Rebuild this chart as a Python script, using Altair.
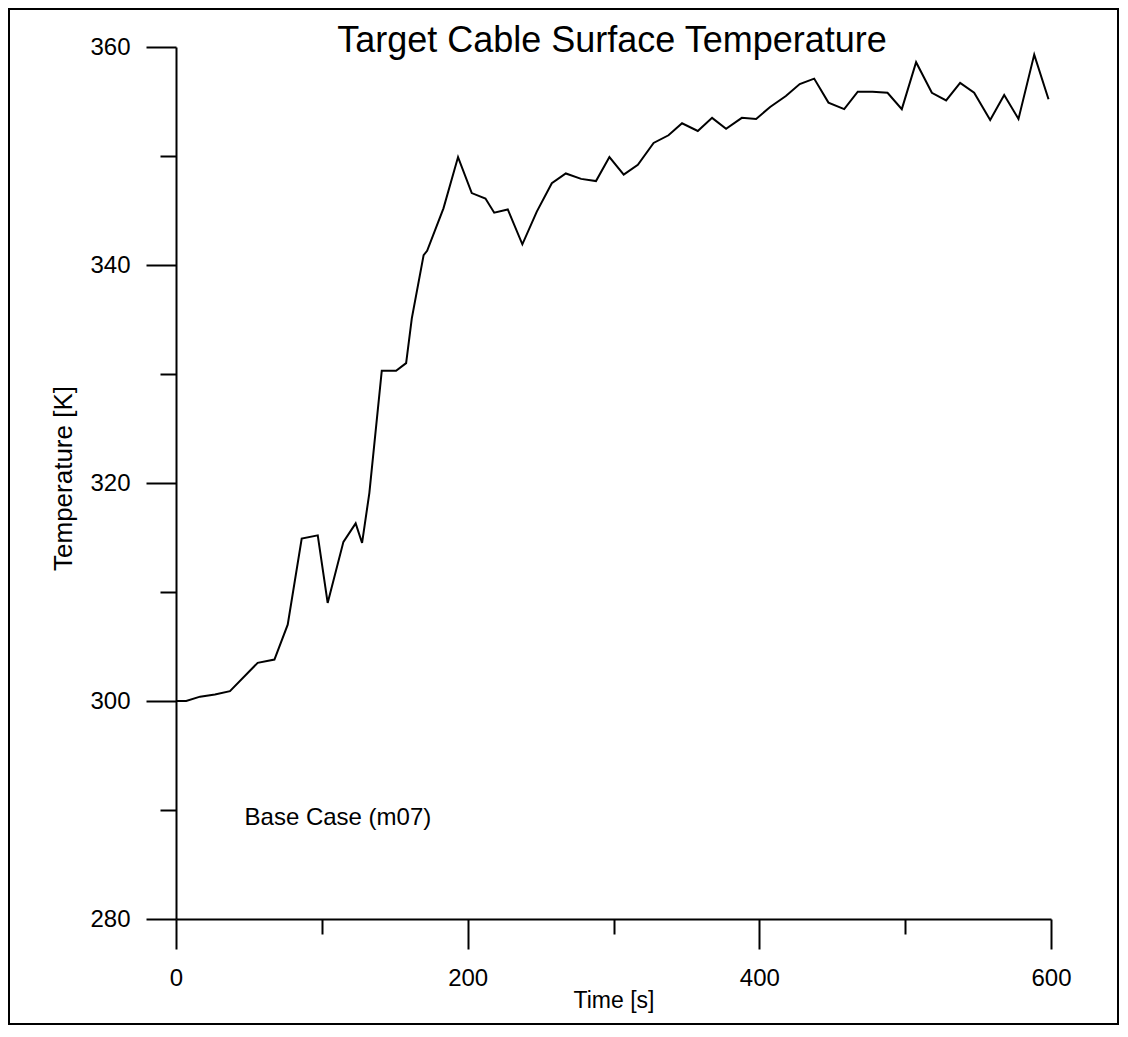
import altair as alt
import pandas as pd

# Data
times = [0, 7, 16.5, 26.7, 37, 56, 67.5, 76.6, 86.2, 97.2, 104, 114.8, 123.2, 127.6, 132.6,
         141.1, 150.9, 157.8, 161.7, 169.8, 172.2, 183.4, 193.4, 202.8, 212.2, 218.2, 227.5,
         237.5, 247.4, 257.7, 267.3, 277.8, 288, 297.2, 307, 316.7, 327.5, 337.7, 347, 357.8,
         367.6, 377.2, 388, 397.8, 407.4, 418.2, 427.7, 437.6, 447.4, 458.2, 467.5, 477.6,
         487.9, 497.7, 507.5, 518.3, 528.1, 537.7, 547.3, 558.3, 567.9, 577.7, 588.5, 598.3]
temps = [300.0, 300.0, 300.4, 300.6, 300.9, 303.5, 303.8, 307.0, 314.9, 315.2, 309.0, 314.6,
         316.3, 314.5, 319.1, 330.3, 330.3, 331.0, 335.1, 340.9, 341.3, 345.2, 349.9, 346.6,
         346.1, 344.8, 345.1, 341.9, 344.9, 347.5, 348.4, 347.9, 347.7, 349.9, 348.3, 349.2,
         351.2, 351.9, 353.0, 352.3, 353.5, 352.5, 353.5, 353.4, 354.5, 355.5, 356.6, 357.1,
         354.9, 354.3, 355.9, 355.9, 355.8, 354.3, 358.6, 355.8, 355.1, 356.7, 355.8, 353.3,
         355.6, 353.4, 359.3, 355.2]

x_ticks = [0, 100, 200, 300, 400, 500, 600]
y_ticks = [280, 290, 300, 310, 320, 330, 340, 350, 360]

annotation_text = ["Base Case (m07)"]
annotation_t = [47]
annotation_T = [289.3]

title_text = ["Target Cable Surface Temperature"]
x_title = "Time [s]"
y_title = "Temperature [K]"

FONT = "Liberation Sans"

df = pd.DataFrame({"t": times, "T": temps})
ann = pd.DataFrame({"t": annotation_t, "T": annotation_T, "label": annotation_text})
ttl = pd.DataFrame({"label": title_text})

x_scale = alt.Scale(domain=[0, 600], nice=False, zero=False)
y_scale = alt.Scale(domain=[280, 360], nice=False, zero=False)

x_axis = alt.Axis(
    values=x_ticks,
    labelExpr="datum.value % 200 === 0 ? datum.label : ''",
    tickSize={"condition": {"test": "datum.value % 200 === 0", "value": 30}, "value": 15},
    labelPadding=17,
    labelFontSize=24,
    labelFlush=False,
    title=x_title,
    titleFontSize=23,
    titleFontWeight="normal",
    titleBaseline="middle",
    titleY=81,
)
y_axis = alt.Axis(
    values=y_ticks,
    labelExpr="datum.value % 20 === 0 ? datum.label : ''",
    tickSize={"condition": {"test": "datum.value % 20 === 0", "value": 30}, "value": 16},
    labelPadding=16,
    labelFontSize=24,
    labelFlush=False,
    title=y_title,
    titleFontSize=26,
    titleFontWeight="normal",
    titleBaseline="middle",
    titleX=-113,
    titleY=431,
)

line = alt.Chart(df).mark_line(color="black", strokeWidth=2).encode(
    x=alt.X("t:Q", scale=x_scale, axis=x_axis),
    y=alt.Y("T:Q", scale=y_scale, axis=y_axis),
)

label = alt.Chart(ann).mark_text(
    align="left", baseline="middle", fontSize=24, font=FONT, color="black"
).encode(
    x=alt.X("t:Q", scale=x_scale),
    y=alt.Y("T:Q", scale=y_scale),
    text="label:N",
)

title = alt.Chart(ttl).mark_text(
    align="center", baseline="alphabetic", fontSize=36, font=FONT, color="black"
).encode(
    x=alt.value(436), y=alt.value(5), text="label:N"
)

frame = alt.Chart(pd.DataFrame({"k": [0]})).mark_rect(
    fill="transparent", stroke="black", strokeWidth=2
).encode(
    x=alt.value(-167), x2=alt.value(942), y=alt.value(-38), y2=alt.value(977)
)

chart = alt.layer(frame, line, label, title).properties(
    width=875,
    height=872,
    padding={"left": 168, "top": 39, "right": 68, "bottom": 108},
    autosize=alt.AutoSizeParams(type="none"),
).configure_view(strokeWidth=0).configure_axis(
    grid=False,
    domainColor="black",
    domainWidth=2,
    tickColor="black",
    tickWidth=2,
    labelColor="black",
    titleColor="black",
    labelFont=FONT,
    titleFont=FONT,
)

chart.save("out.html", embed_options={"renderer": "svg", "actions": False})
